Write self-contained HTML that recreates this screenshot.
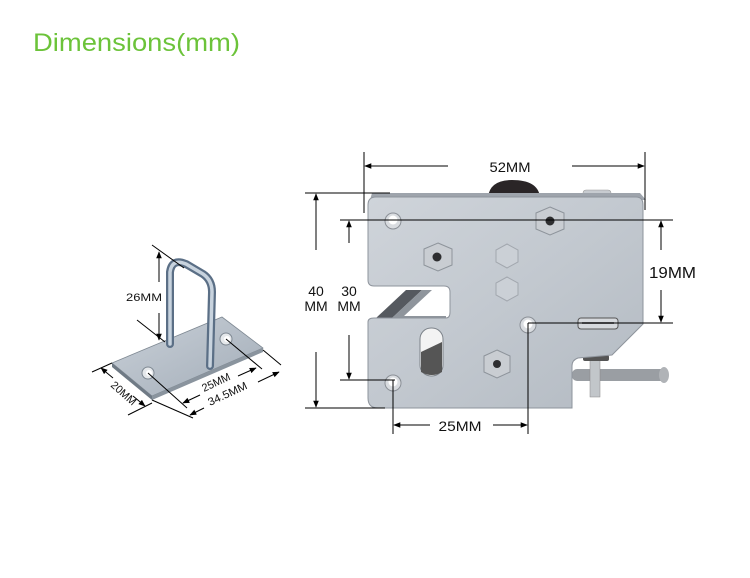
<!DOCTYPE html>
<html><head><meta charset="utf-8"><style>
html,body{margin:0;padding:0;background:#fff;}
svg{display:block;}
text{font-family:"Liberation Sans",sans-serif;}
</style></head><body>
<svg width="750" height="578" viewBox="0 0 750 578" xmlns="http://www.w3.org/2000/svg">
<defs>
<linearGradient id="pl" x1="0" y1="0" x2="1" y2="1">
<stop offset="0" stop-color="#cfd4da"/><stop offset="0.5" stop-color="#c2c8cf"/><stop offset="1" stop-color="#b3bac2"/>
</linearGradient>
<linearGradient id="bp" x1="0" y1="0" x2="1" y2="1">
<stop offset="0" stop-color="#c9d0d8"/><stop offset="1" stop-color="#a3adb8"/>
</linearGradient>
<marker id="ah" viewBox="0 0 10 10" refX="9" refY="5" markerWidth="7" markerHeight="7" orient="auto-start-reverse">
<path d="M0,1 L10,5 L0,9 z" fill="#000"/></marker>
</defs>

<text x="33" y="51" font-size="25" fill="#6cc33a" textLength="207" lengthAdjust="spacingAndGlyphs">Dimensions(mm)</text>

<!-- ===== LOCK ===== -->
<path d="M488,197 Q490,180 512,180 Q538,180 540,197 z" fill="#2a2527"/>
<rect x="583" y="190" width="28" height="8" rx="3" fill="#c7cbd0" stroke="#999" stroke-width="0.6"/>
<path d="M372,193 L640,193 L646,200 L370,200 z" fill="#9ea4ac"/>
<!-- pin -->
<rect x="572" y="369" width="96" height="12" rx="5" fill="#9a9ea3"/>
<ellipse cx="664" cy="375" rx="5" ry="8" fill="#b0b3b7"/>
<rect x="590" y="355" width="10" height="42" fill="#c2c6ca" stroke="#888" stroke-width="0.5"/>
<rect x="583" y="355" width="26" height="6" rx="2" fill="#555"/>
<!-- latch (in notch) -->
<path d="M376,318 L406,290 L422,290 L392,318 z" fill="#55595f"/>
<path d="M392,318 L422,290 L432,290 L404,316 L446,316 L446,318 z" fill="#8f959c"/>
<!-- plate -->
<path d="M376,197 L636,197 Q643,197 643,205 L643,324 L612,355 L578,358 Q572,360 572,366 L572,408 L378,408 Q368,408 368,398 L368,322 Q368,318 374,318 L446,318 Q450,318 450,312 L450,292 Q450,286 444,286 L374,286 Q368,286 368,280 L368,205 Q368,197 376,197 z" fill="url(#pl)" stroke="#8e949c" stroke-width="1"/>
<!-- holes -->
<circle cx="393" cy="221" r="8" fill="#d9dce0" stroke="#8a8f96"/><circle cx="393" cy="220" r="4.5" fill="#fff"/>
<circle cx="528" cy="325" r="8" fill="#d9dce0" stroke="#8a8f96"/><circle cx="528" cy="324" r="4.5" fill="#fff"/>
<circle cx="393" cy="383" r="8" fill="#d9dce0" stroke="#8a8f96"/><circle cx="393" cy="382" r="4.5" fill="#fff"/>
<!-- nuts -->
<polygon points="550,207 564,213 564,229 550,235 536,229 536,213" fill="#c9cdd2" stroke="#8e949b"/><circle cx="550" cy="221" r="4.5" fill="#2e2e30"/>
<polygon points="438,243 452,249 452,265 438,271 424,265 424,249" fill="#c9cdd2" stroke="#8e949b"/><circle cx="437" cy="257" r="4.5" fill="#2e2e30"/>
<polygon points="497,350 510,356 510,372 497,378 484,372 484,356" fill="#c9cdd2" stroke="#8e949b"/><circle cx="497" cy="364" r="4" fill="#2e2e30"/>
<polygon points="507,244 518,250 518,262 507,268 496,262 496,250" fill="#cbd0d6" stroke="#a2a7ae"/>
<polygon points="507,277 518,283 518,295 507,301 496,295 496,283" fill="#cbd0d6" stroke="#a2a7ae"/>
<!-- slot -->
<rect x="420" y="328" width="23" height="48" rx="11" fill="#f3f3f3" stroke="#7d838a"/>
<path d="M421,352 L442,342 L442,372 Q432,378 421,372 z" fill="#555"/>
<rect x="578" y="318" width="40" height="11" rx="3" fill="#d6d9dd" stroke="#555"/>
<line x1="582" y1="323" x2="614" y2="323" stroke="#222" stroke-width="1.5"/>

<!-- lock dimension lines -->
<g stroke="#000" stroke-width="1" fill="none">
<line x1="364" y1="152" x2="364" y2="213"/>
<line x1="645" y1="152" x2="645" y2="210"/>
<line x1="365" y1="166" x2="448" y2="166" marker-start="url(#ah)"/>
<line x1="572" y1="166" x2="644" y2="166" marker-end="url(#ah)"/>
<line x1="305" y1="193" x2="390" y2="193"/>
<line x1="305" y1="408" x2="385" y2="408"/>
<line x1="316" y1="194" x2="316" y2="250" marker-start="url(#ah)"/>
<line x1="316" y1="352" x2="316" y2="407" marker-end="url(#ah)"/>
<line x1="340" y1="220" x2="673" y2="220"/>
<line x1="340" y1="380" x2="395" y2="380"/>
<line x1="349" y1="221" x2="349" y2="243" marker-start="url(#ah)"/>
<line x1="349" y1="335" x2="349" y2="379" marker-end="url(#ah)"/>
<line x1="528" y1="323" x2="673" y2="323"/>
<line x1="661" y1="221" x2="661" y2="250" marker-start="url(#ah)"/>
<line x1="661" y1="290" x2="661" y2="322" marker-end="url(#ah)"/>
<line x1="393" y1="380" x2="393" y2="434"/>
<line x1="528" y1="323" x2="528" y2="434"/>
<line x1="394" y1="425" x2="430" y2="425" marker-start="url(#ah)"/>
<line x1="493" y1="425" x2="527" y2="425" marker-end="url(#ah)"/>
</g>
<g font-size="14" fill="#111">
<text x="510" y="172" text-anchor="middle" textLength="41" lengthAdjust="spacingAndGlyphs">52MM</text>
<text x="316" y="296" text-anchor="middle">40</text>
<text x="316" y="311" text-anchor="middle">MM</text>
<text x="349" y="296" text-anchor="middle">30</text>
<text x="349" y="311" text-anchor="middle">MM</text>
<text x="460" y="431" text-anchor="middle" textLength="43" lengthAdjust="spacingAndGlyphs">25MM</text>
<text x="649" y="278" font-size="16" textLength="47" lengthAdjust="spacingAndGlyphs">19MM</text>
</g>

<!-- ===== BRACKET ===== -->
<path d="M112,363 L222,317 L263,348 L152,396 z" fill="url(#bp)" stroke="#7e8892" stroke-width="0.8"/>
<path d="M112,363 L152,396 L152,400 L112,367 z" fill="#6f7a85"/>
<path d="M152,396 L263,348 L263,352 L152,400 z" fill="#8a949e"/>
<circle cx="148" cy="373" r="6" fill="#e5e8eb" stroke="#7e8892"/><circle cx="149" cy="373" r="3" fill="#fff"/>
<circle cx="226" cy="339" r="6" fill="#e5e8eb" stroke="#7e8892"/><circle cx="227" cy="339" r="3" fill="#fff"/>
<path d="M170,344 L170,272 Q172,258 186,264 L203,274 Q212,280 212,292 L210,366" fill="none" stroke="#5b6f86" stroke-width="8" stroke-linecap="round"/>
<path d="M170,344 L170,272 Q172,258 186,264 L203,274 Q212,280 212,292 L210,366" fill="none" stroke="#c8d3de" stroke-width="3.5" stroke-linecap="round"/>

<g stroke="#000" stroke-width="1" fill="none">
<line x1="152" y1="245" x2="184" y2="268"/>
<line x1="137" y1="320" x2="165" y2="342"/>
<line x1="159" y1="252" x2="159" y2="282" marker-start="url(#ah)"/>
<line x1="159" y1="313" x2="159" y2="340" marker-end="url(#ah)"/>
<line x1="92" y1="372" x2="112" y2="363"/>
<line x1="128" y1="415" x2="152" y2="403"/>
<line x1="101" y1="368" x2="113" y2="378" marker-start="url(#ah)"/>
<line x1="133" y1="396" x2="145" y2="406" marker-end="url(#ah)"/>
<line x1="148" y1="373" x2="187" y2="408"/>
<line x1="226" y1="339" x2="262" y2="369"/>
<line x1="152" y1="400" x2="193" y2="418"/>
<line x1="263" y1="350" x2="281" y2="365"/>
<line x1="183" y1="403" x2="200" y2="395" marker-start="url(#ah)"/>
<line x1="238" y1="376" x2="256" y2="368" marker-end="url(#ah)"/>
<line x1="190" y1="415" x2="204" y2="408" marker-start="url(#ah)"/>
<line x1="258" y1="382" x2="279" y2="372" marker-end="url(#ah)"/>
</g>
<g font-size="11" fill="#111">
<text x="126" y="301" textLength="36" lengthAdjust="spacingAndGlyphs">26MM</text>
<text transform="translate(110,386) rotate(42)" textLength="30" lengthAdjust="spacingAndGlyphs">20MM</text>
<text transform="translate(204,392) rotate(-25)" textLength="30" lengthAdjust="spacingAndGlyphs">25MM</text>
<text transform="translate(210,406) rotate(-25)" textLength="42" lengthAdjust="spacingAndGlyphs">34.5MM</text>
</g>
</svg>
</body></html>
